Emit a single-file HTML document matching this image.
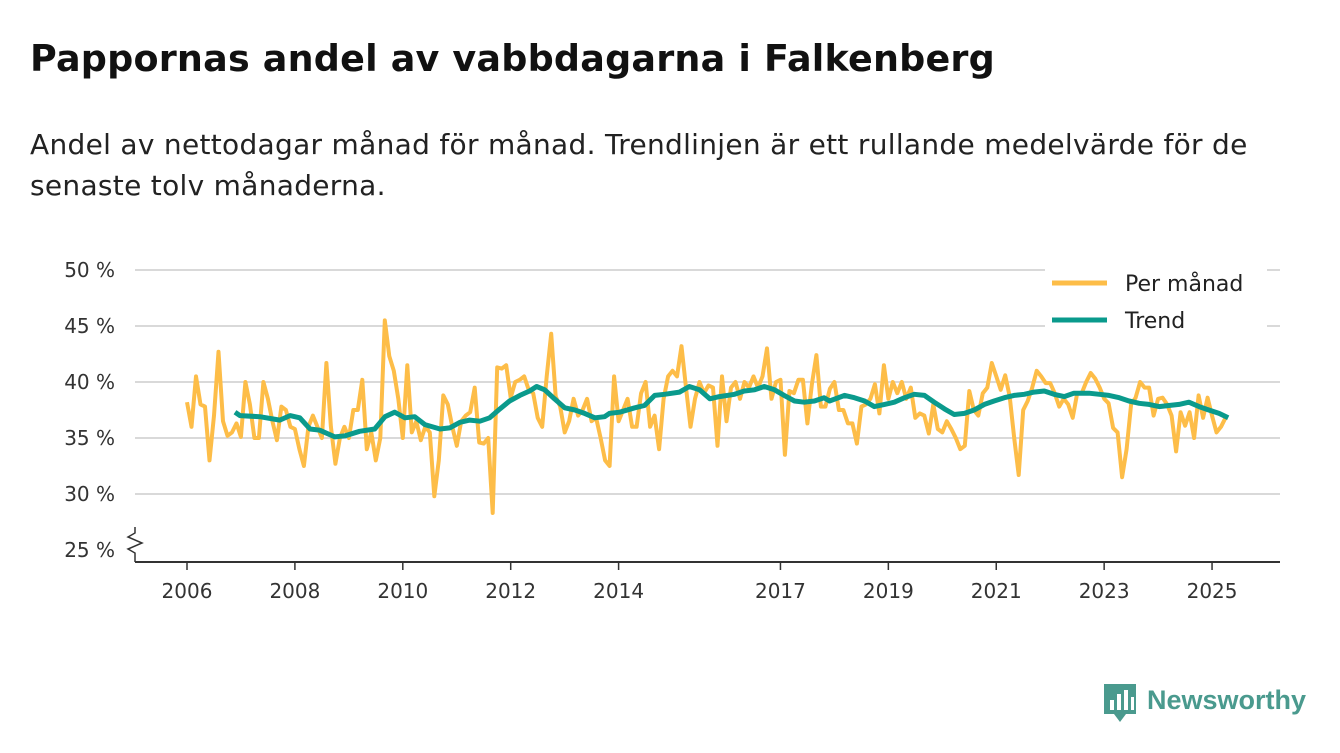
<!DOCTYPE html>
<html><head><meta charset="utf-8">
<style>
body{margin:0;background:#fff;width:1340px;height:753px;overflow:hidden;font-family:"Liberation Sans","DejaVu Sans",sans-serif;}
#title{position:absolute;left:30px;top:37px;font-size:36.5px;font-weight:bold;color:#111;margin:0;font-family:"DejaVu Sans",sans-serif;letter-spacing:0.2px;}
#sub{position:absolute;left:30px;top:124px;width:1245px;font-size:28px;line-height:41px;color:#222;margin:0;font-family:"DejaVu Sans",sans-serif;letter-spacing:0.3px;}
svg{position:absolute;left:0;top:0;}
</style></head><body>
<h1 id="title">Pappornas andel av vabbdagarna i Falkenberg</h1>
<p id="sub">Andel av nettodagar månad för månad. Trendlinjen är ett rullande medelvärde för de senaste tolv månaderna.</p>
<svg id="chart" width="1340" height="753"></svg>
<script>
const yTicks=[25,30,35,40,45,50];
const yTickLabels=["25 %","30 %","35 %","40 %","45 %","50 %"];
const xTicks=[2006,2008,2010,2012,2014,2017,2019,2021,2023,2025];
const startYear=2006;
const monthly=[
38.2,36,40.5,38,37.8,33,37,42.7,36.5,35.2,35.5,36.3,
35.1,40,38,35,35,40,38.5,36.5,34.8,37.8,37.5,36,
35.8,34,32.5,36,37,36,35,41.7,36,32.7,35,36,
35,37.5,37.5,40.2,34,35.5,33,35,45.5,42.3,41,38.5,
35,41.5,35.5,36.5,34.8,36,35.5,29.8,33,38.8,38,36,
34.3,36.5,37,37.3,39.5,34.6,34.5,35,28.3,41.3,41.2,41.5,
38.6,40,40.2,40.5,39.3,39,36.8,36,40.5,44.3,38.7,37.8,
35.5,36.5,38.5,37,37.5,38.5,36.5,36.8,35,33,32.5,40.5,
36.5,37.5,38.5,36,36,39,40,36,37,34,38.5,40.5,
41,40.5,43.2,39.5,36,38.5,40,39,39.7,39.5,34.3,40.5,
36.5,39.5,40,38.5,40,39.5,40.5,39.5,40.5,43,38.5,40,
40.2,33.5,39.2,39,40.2,40.2,36.3,39.8,42.4,37.8,37.8,39.4,
40,37.5,37.5,36.3,36.3,34.5,37.8,38,38.5,39.8,37.2,41.5,
38.5,40,39,40,38.5,39.5,36.8,37.2,37,35.4,38,35.8,
35.5,36.5,35.8,35,34,34.3,39.2,37.5,37,39,39.5,41.7,
40.5,39.3,40.6,38.7,35,31.7,37.5,38.3,39.5,41,40.5,39.9,
39.9,39,37.8,38.5,38,36.8,39,39,40,40.8,40.3,39.5,
38.5,38.1,35.9,35.5,31.5,34,38,38.6,40,39.5,39.5,37,
38.5,38.6,38,37,33.8,37.3,36.1,37.3,35,38.8,36.8,38.6,
37,35.5,36,36.8];
const trendYears=[2006.89,2006.98,2007.35,2007.72,2007.91,2008.09,2008.28,2008.46,2008.74,2008.93,2009.2,2009.48,2009.67,2009.85,2010.04,2010.22,2010.41,2010.69,2010.87,2011.06,2011.24,2011.43,2011.61,2011.8,2011.98,2012.17,2012.35,2012.48,2012.63,2012.81,2013.0,2013.19,2013.37,2013.56,2013.74,2013.83,2014.02,2014.3,2014.48,2014.67,2014.85,2015.13,2015.31,2015.5,2015.69,2015.87,2016.15,2016.33,2016.52,2016.7,2016.89,2017.07,2017.26,2017.44,2017.63,2017.81,2017.91,2018.19,2018.37,2018.56,2018.74,2018.93,2019.11,2019.3,2019.48,2019.67,2019.85,2020.04,2020.22,2020.41,2020.59,2020.78,2020.96,2021.15,2021.33,2021.52,2021.7,2021.89,2022.07,2022.26,2022.44,2022.72,2022.91,2023.09,2023.28,2023.46,2023.65,2023.83,2024.02,2024.2,2024.39,2024.57,2024.76,2024.94,2025.13,2025.3];
const trendValues=[37.3,37,36.9,36.6,37,36.8,35.8,35.7,35.1,35.2,35.6,35.8,36.9,37.3,36.8,36.9,36.2,35.8,35.9,36.4,36.6,36.5,36.8,37.6,38.3,38.8,39.2,39.6,39.3,38.5,37.7,37.5,37.2,36.8,36.9,37.2,37.3,37.7,37.9,38.8,38.9,39.1,39.6,39.3,38.5,38.7,38.9,39.2,39.3,39.6,39.3,38.8,38.3,38.2,38.3,38.6,38.3,38.8,38.6,38.3,37.8,38,38.2,38.6,38.9,38.8,38.2,37.6,37.1,37.2,37.5,38,38.3,38.6,38.8,38.9,39.1,39.2,38.9,38.7,39,39,38.9,38.8,38.6,38.3,38.1,38,37.8,37.9,38,38.2,37.8,37.5,37.2,36.8];

const NS="http://www.w3.org/2000/svg";
const svg=document.getElementById('chart');
const X=y=>187+(y-2006)*53.95;
const Y=v=>550-(v-25)*11.2;
const FONT='DejaVu Sans, sans-serif';
function mk(tag,attrs,parent){const e=document.createElementNS(NS,tag);for(const k in attrs)e.setAttribute(k,attrs[k]);(parent||svg).appendChild(e);return e;}

yTicks.forEach((t,i)=>{
  if(i>0){const g=mk('line',{x1:135,x2:1280,y1:Y(t),y2:Y(t),stroke:'#d9d9d9','stroke-width':2});
  
  }
  const tx=mk('text',{x:115,y:Y(t)+7,'text-anchor':'end','font-size':20,fill:'#333','font-family':FONT});
  tx.textContent=yTickLabels[i];
  
  
});
const ax=mk('line',{x1:135,x2:1280,y1:562,y2:562,stroke:'#333','stroke-width':2});


const brk=mk('path',{d:'M135,527 L135,533 L128,537 L142,543 L128,549 L135,553 L135,562',fill:'none',stroke:'#333','stroke-width':1.5});


xTicks.forEach(t=>{
  const tk=mk('line',{x1:X(t),x2:X(t),y1:562,y2:570,stroke:'#333','stroke-width':1.5});
  
  
  const tx=mk('text',{x:X(t),y:598,'text-anchor':'middle','font-size':20,fill:'#333','font-family':FONT});
  tx.textContent=t;
  
  
});
const mp=monthly.map((v,i)=>X(startYear+i/12).toFixed(1)+','+Y(v).toFixed(1)).join(' ');
const l1=mk('polyline',{points:mp,fill:'none',stroke:'#fdbd48','stroke-width':4,'stroke-linejoin':'round'});


const tp=trendValues.map((v,i)=>X(trendYears[i]).toFixed(1)+','+Y(v).toFixed(1)).join(' ');
const l2=mk('polyline',{points:tp,fill:'none',stroke:'#0a9a8c','stroke-width':5,'stroke-linejoin':'round'});



const lg=mk('g',{});


mk('rect',{x:1045,y:266,width:222,height:70,fill:'#fff'},lg);
mk('line',{x1:1052,x2:1107,y1:283,y2:283,stroke:'#fdbd48','stroke-width':5},lg);
mk('line',{x1:1052,x2:1107,y1:320,y2:320,stroke:'#0a9a8c','stroke-width':5},lg);
const t1=mk('text',{x:1125,y:291,'font-size':22,fill:'#222','font-family':FONT},lg);t1.textContent='Per månad';


const t2=mk('text',{x:1125,y:328,'font-size':22,fill:'#222','font-family':FONT},lg);t2.textContent='Trend';



const logo=mk('g',{});


mk('path',{d:'M1104,684 h32 v30 h-10 l-6,8 l-6,-8 h-10 z',fill:'#4a9a8e'},logo);
[[1110,700,4,10],[1117,694,4,16],[1124,690,4,20],[1131,697,3,13]].forEach(r=>mk('rect',{x:r[0],y:r[1],width:r[2],height:r[3],fill:'#fff'},logo));
const lt=mk('text',{x:1147,y:709,'font-size':27,'font-weight':'bold',fill:'#4a9a8e','font-family':'Liberation Sans, sans-serif'},logo);lt.textContent='Newsworthy';
</script>
</body></html>
